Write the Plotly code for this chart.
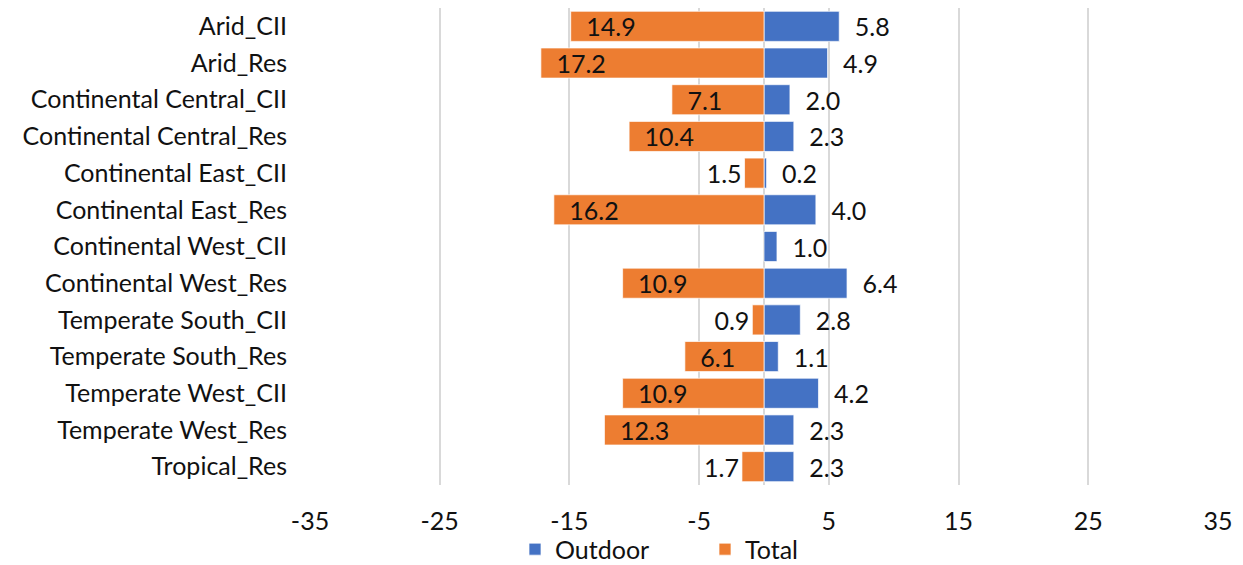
import plotly.graph_objects as go

categories = [
    "Arid_CII", "Arid_Res", "Continental Central_CII", "Continental Central_Res",
    "Continental East_CII", "Continental East_Res", "Continental West_CII",
    "Continental West_Res", "Temperate South_CII", "Temperate South_Res",
    "Temperate West_CII", "Temperate West_Res", "Tropical_Res",
]
outdoor = [5.8, 4.9, 2.0, 2.3, 0.2, 4.0, 1.0, 6.4, 2.8, 1.1, 4.2, 2.3, 2.3]
total = [14.9, 17.2, 7.1, 10.4, 1.5, 16.2, None, 10.9, 0.9, 6.1, 10.9, 12.3, 1.7]
tick_vals = [-35, -25, -15, -5, 5, 15, 25, 35]

FONT = "Lato"
FS = 25
BLUE = "#4472C4"
ORANGE = "#ED7D31"
TXT = "#111111"

total_x = [(-v if v is not None else None) for v in total]
total_text = [(f"{v:.1f}" if v is not None else "") for v in total]
total_pos = [("inside" if (v is not None and v > 3) else "outside") for v in total]
outdoor_text = [f"{v:.1f}" for v in outdoor]

tf = dict(family=FONT, size=FS, color=TXT)

fig = go.Figure()
fig.add_trace(go.Bar(
    y=categories, x=outdoor, orientation="h", name="Outdoor",
    marker=dict(color=BLUE, line=dict(color="white", width=0.7)),
    text=outdoor_text, texttemplate="\u2002%{text}", textposition="outside",
    cliponaxis=False, constraintext="none", textfont=tf,
))
fig.add_trace(go.Bar(
    y=categories, x=total_x, orientation="h", name="Total",
    marker=dict(color=ORANGE, line=dict(color="white", width=0.7)),
    text=total_text, texttemplate="\u2002%{text}", textposition=total_pos,
    insidetextanchor="end", cliponaxis=False, textangle=0, constraintext="none",
    textfont=tf, insidetextfont=tf, outsidetextfont=tf,
))

fig.update_layout(
    width=1243, height=565,
    margin=dict(l=310, r=25, t=8, b=80, autoexpand=False),
    barmode="overlay", bargap=0.18,
    plot_bgcolor="white", paper_bgcolor="white",
    font=tf,
    showlegend=True,
    legend=dict(orientation="h", x=(515 - 310) / 908, xanchor="left", y=-0.135, yanchor="middle",
                bgcolor="rgba(0,0,0,0)", font=tf,
                entrywidth=145, entrywidthmode="pixels", traceorder="normal"),
)
fig.update_xaxes(
    range=[-35, 35], tickvals=tick_vals, ticktext=[str(v) for v in tick_vals],
    showgrid=True, gridcolor="#D9D9D9", gridwidth=1.5,
    zeroline=True, zerolinecolor="#D9D9D9", zerolinewidth=1.5,
    showline=False, ticks="", ticklabelstandoff=19, tickfont=tf, automargin=False,
)
fig.update_yaxes(
    autorange="reversed", showgrid=False, showline=False, ticks="",
    ticklabelstandoff=22, tickfont=tf, automargin=False,
)

fig.write_html("out.html")
